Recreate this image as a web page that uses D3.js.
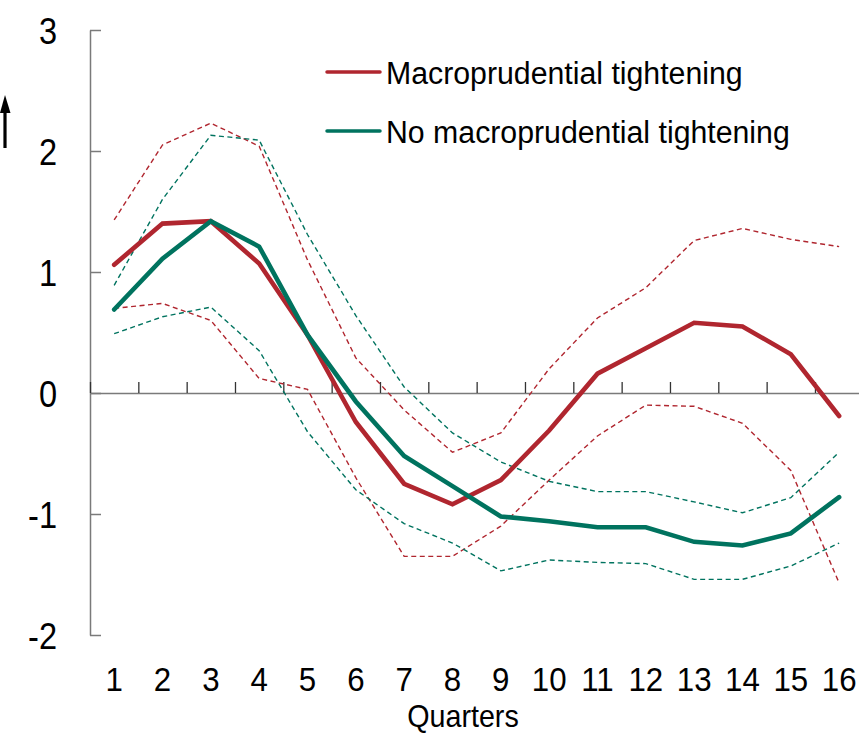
<!DOCTYPE html>
<html>
<head>
<meta charset="utf-8">
<script src="https://cdn.jsdelivr.net/npm/d3@7"></script>
<style>
  html, body { margin: 0; padding: 0; background: #fff; }
  svg { display: block; }
  text { font-family: "Liberation Sans", Arial, sans-serif; fill: #000; }
</style>
</head>
<body>
<svg id="chart" width="859" height="734"></svg>
<script>
// ---- data ----
const quarters = d3.range(1, 17);
const yTicks = [-2, -1, 0, 1, 2, 3];
const seriesNames = ["Macroprudential tightening", "No macroprudential tightening"];
const tightMid   = [1.06, 1.40, 1.42, 1.07, 0.48, -0.24, -0.75, -0.92, -0.72, -0.31, 0.16, 0.37, 0.58, 0.55, 0.32, -0.19];
const tightUpper = [1.43, 2.05, 2.23, 2.04, 1.10, 0.29, -0.14, -0.49, -0.33, 0.20, 0.62, 0.87, 1.26, 1.36, 1.27, 1.21];
const tightLower = [0.70, 0.74, 0.60, 0.12, 0.03, -0.70, -1.35, -1.35, -1.10, -0.72, -0.355, -0.10, -0.11, -0.25, -0.64, -1.57];
const noMid      = [0.69, 1.11, 1.42, 1.21, 0.48, -0.07, -0.52, -0.77, -1.02, -1.06, -1.11, -1.11, -1.23, -1.26, -1.16, -0.86];
const noUpper    = [0.89, 1.60, 2.13, 2.09, 1.31, 0.64, 0.05, -0.33, -0.57, -0.73, -0.815, -0.815, -0.90, -0.99, -0.865, -0.49];
const noLower    = [0.49, 0.63, 0.71, 0.35, -0.32, -0.80, -1.08, -1.24, -1.47, -1.38, -1.40, -1.41, -1.54, -1.54, -1.43, -1.24];
const xTitle = "Quarters";

// ---- styles ----
const RED = "#b0262f";
const GREEN = "#00735f";
const AXIS = "#7a7a7a";

const svg = d3.select("#chart");

const x = d3.scaleBand().domain(quarters).range([90, 863.3]);
const xEdge = d3.scaleLinear().domain([0, 16]).range([90, 863.3]);
const y = d3.scaleLinear().domain([-2, 3]).range([635, 30]);

// y axis
const yAxis = svg.append("g").attr("transform", "translate(90,0)")
  .call(d3.axisLeft(y).tickValues(yTicks).tickSizeInner(-11).tickSizeOuter(0).tickFormat(d => String(d)));
yAxis.select(".domain").attr("stroke", AXIS).attr("stroke-width", 1.5);
yAxis.selectAll(".tick line").attr("stroke", AXIS).attr("stroke-width", 1.5);
yAxis.selectAll(".tick text")
  .attr("x", 0).attr("dy", null)
  .attr("transform", "translate(-33,13) scale(0.88,1)")
  .attr("text-anchor", "end")
  .style("font-size", "37px").style("font-family", "'Liberation Sans', Arial, sans-serif").attr("fill", "#000");

// x axis line at zero with boundary ticks pointing up
const xAxis = svg.append("g").attr("transform", `translate(0,${y(0)})`)
  .call(d3.axisTop(xEdge).tickValues(d3.range(0, 17)).tickSizeInner(11).tickSizeOuter(0).tickFormat(""));
xAxis.select(".domain").attr("stroke", AXIS).attr("stroke-width", 1.5);
xAxis.selectAll(".tick line").attr("stroke", "#333").attr("stroke-width", 1.3);

// x tick labels (category centres)
const xLab = svg.append("g").attr("transform", "translate(0,691)")
  .call(d3.axisBottom(x).tickSize(0).tickPadding(0));
xLab.select(".domain").remove();
xLab.selectAll(".tick text")
  .attr("y", 0).attr("dy", null)
  .attr("transform", "scale(0.92,1)")
  .style("font-size", "34px").style("font-family", "'Liberation Sans', Arial, sans-serif").attr("fill", "#000");

// x title
svg.append("text")
  .attr("transform", "translate(463,727) scale(0.91,1)")
  .attr("text-anchor", "middle")
  .style("font-size", "31.5px")
  .text(xTitle);

// arrow at left
svg.append("path")
  .attr("d", "M5,148 L5,108")
  .attr("stroke", "#000").attr("stroke-width", 3.2).attr("fill", "none");
svg.append("path")
  .attr("d", "M0,113 L5,95 L10.5,113 Z")
  .attr("fill", "#000");

// lines
const line = d3.line().x((d, i) => x(quarters[i]) + x.bandwidth() / 2).y(d => y(d));

const dashed = [[tightUpper, RED], [tightLower, RED], [noUpper, GREEN], [noLower, GREEN]];
dashed.forEach(([data, col]) => {
  svg.append("path").datum(data).attr("d", line)
    .attr("fill", "none").attr("stroke", col).attr("stroke-width", 1.4)
    .attr("stroke-dasharray", "5,3.5");
});
[[tightMid, RED], [noMid, GREEN]].forEach(([data, col]) => {
  svg.append("path").datum(data).attr("d", line)
    .attr("fill", "none").attr("stroke", col).attr("stroke-width", 4.6)
    .attr("stroke-linejoin", "miter").attr("stroke-linecap", "round");
});

// legend
const legend = svg.append("g");
const legendRows = [[seriesNames[0], RED, 72], [seriesNames[1], GREEN, 131]];
legendRows.forEach(([name, col, ly]) => {
  legend.append("line").attr("x1", 327).attr("x2", 380).attr("y1", ly).attr("y2", ly)
    .attr("stroke", col).attr("stroke-width", 3.5).attr("stroke-linecap", "round");
  legend.append("text")
    .attr("transform", `translate(386,${ly + 11.5}) scale(0.955,1)`)
    .style("font-size", "31.7px")
    .text(name);
});
</script>
</body>
</html>
